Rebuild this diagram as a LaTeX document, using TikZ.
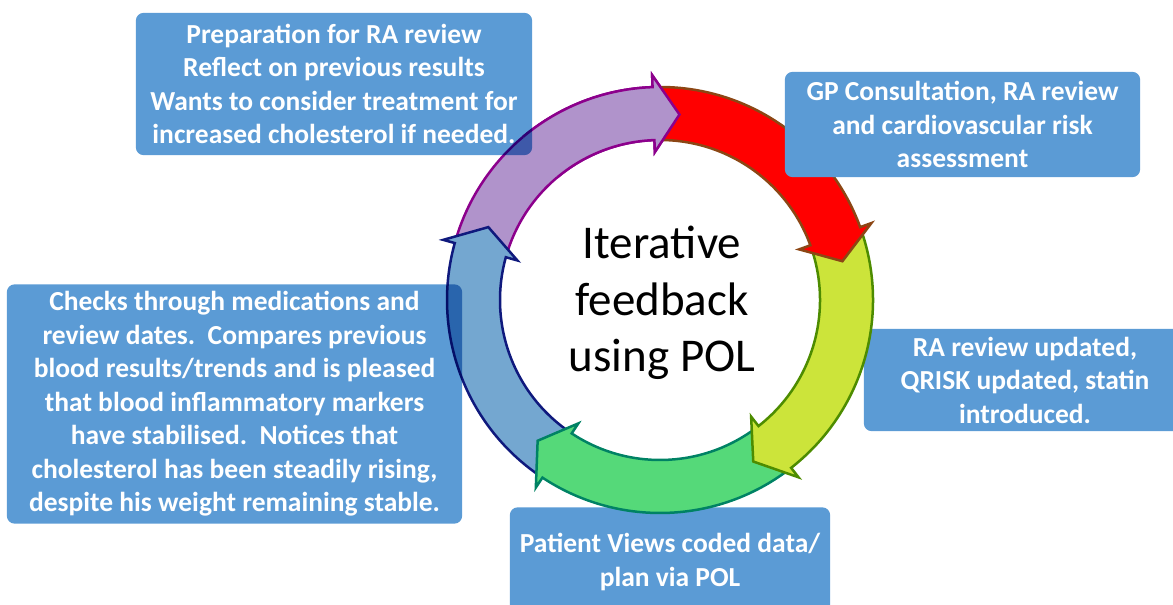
\documentclass[tikz,border=0pt]{standalone}
\usepackage{fontspec}
\setmainfont{Carlito}
\definecolor{boxblue}{RGB}{91,155,213}
\definecolor{redfill}{RGB}{255,0,0}
\definecolor{redline}{RGB}{140,70,20}
\definecolor{yelfill}{RGB}{204,228,58}
\definecolor{yelline}{RGB}{77,140,0}
\definecolor{grnfill}{RGB}{85,217,121}
\definecolor{grnline}{RGB}{0,130,100}
\definecolor{blufill}{RGB}{116,167,208}
\definecolor{bluline}{RGB}{15,25,125}
\definecolor{purfill}{RGB}{176,147,203}
\definecolor{purline}{RGB}{140,0,140}
\pgfdeclarelayer{boxlow}
\pgfdeclarelayer{ring}
\pgfdeclarelayer{boxmid}
\pgfdeclarelayer{boxhigh}
\pgfsetlayers{boxlow,ring,boxmid,boxhigh,main}
\newcommand\RingArrow[5]{%
  \filldraw[ringarrow,fill=#1,draw=#2]
    (#3:213pt) arc[start angle=#3,end angle=#4,radius=213pt]
    -- (#4:225pt) -- (#5:186.5pt) -- (#4:148pt) -- (#4:160pt)
    arc[start angle=#4,end angle=#3,radius=160pt] -- cycle;}
\begin{document}
\begin{tikzpicture}[x=1pt,y=1pt,
  boxtext/.style={text=white,font=\bfseries\fontsize{27.5}{33.5}\selectfont,
    align=center,inner sep=0pt},
  boxfill/.style={fill=boxblue,rounded corners=8pt},
  ringarrow/.style={line width=2.5pt,line join=miter}]
\useasboundingbox (0,0) rectangle (1173,605);
\clip (0,0) rectangle (1173,605);

% ring of arrows
\begin{pgfonlayer}{ring}
\begin{scope}[shift={(660,305)}]
  \RingArrow{purfill}{purline}{162.5}{92}{84}
  \RingArrow{blufill}{bluline}{-125.5}{-195.5}{-203}
  \RingArrow{grnfill}{grnline}{-54}{-123.5}{-131}
  \RingArrow{yelfill}{yelline}{18}{-52}{-60}
  \RingArrow{redfill}{redline}{90}{20}{12}
  \begin{scope}
    \clip (0,0) -- (60:320pt) -- (90:340pt) -- (130:320pt) -- cycle;
    \RingArrow{purfill}{purline}{162.5}{92}{84}
  \end{scope}
\end{scope}
\end{pgfonlayer}

% centre text
\node[font=\fontsize{47}{56.5}\selectfont,align=center,inner sep=0pt] (ctr)
  at (662,302) {Iterative\\feedback\\using POL};

% boxes text
\node[boxtext,minimum width=396pt,minimum height=142pt] (b1) at (334,521)
  {Preparation for RA review\\Reflect on previous results\\Wants to consider treatment for\\increased cholesterol if needed.};
\node[boxtext,minimum width=355pt,minimum height=105pt] (b2) at (962.5,480.5)
  {GP Consultation, RA review\\and cardiovascular risk\\assessment};
\node[boxtext,minimum width=322pt,minimum height=102pt] (b3) at (1025,225)
  {RA review updated,\\QRISK updated, statin\\introduced.};
\node[boxtext,minimum width=320pt,minimum height=109pt] (b4) at (670,43)
  {Patient Views coded data/\\plan via POL};
\node[boxtext,minimum width=455pt,minimum height=239pt] (b5) at (234.5,201)
  {Checks through medications and\\review dates.\ \ Compares previous\\blood results/trends and is pleased\\that blood inflammatory markers\\have stabilised.\ \ Notices that\\cholesterol has been steadily rising,\\despite his weight remaining stable.};

% box fills
\begin{pgfonlayer}{boxlow}
  \foreach \b in {b3,b4}
    \fill[boxfill] (\b.south west) rectangle (\b.north east);
\end{pgfonlayer}
\begin{pgfonlayer}{boxmid}
\begin{scope}[blend mode=multiply]
  \foreach \b in {b1,b5}
    \fill[boxfill] (\b.south west) rectangle (\b.north east);
\end{scope}
\end{pgfonlayer}
\begin{pgfonlayer}{boxhigh}
  \fill[boxfill] (b2.south west) rectangle (b2.north east);
\end{pgfonlayer}
\end{tikzpicture}
\end{document}
